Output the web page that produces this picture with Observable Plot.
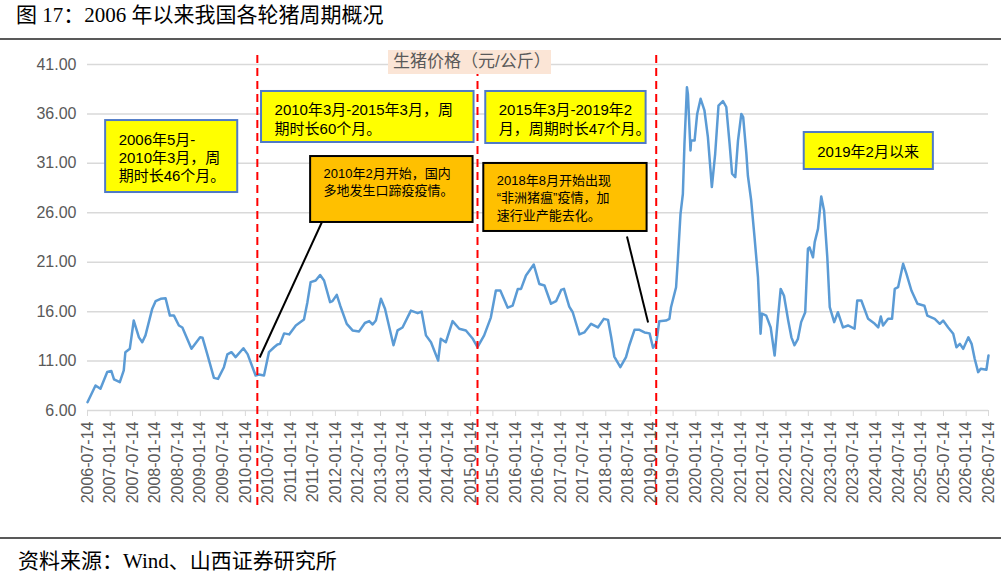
<!DOCTYPE html>
<html>
<head>
<meta charset="utf-8">
<script src="https://cdn.jsdelivr.net/npm/d3@7"></script>
<script src="https://cdn.jsdelivr.net/npm/@observablehq/plot@0.6"></script>
<style>
  body { margin: 0; background: #fff; width: 1007px; height: 578px; position: relative; overflow: hidden; }
  #title { position: absolute; left: 16px; top: 2px; font-size: 21px; line-height: 27px; font-family: "Liberation Serif", "Noto Sans CJK SC", serif; color: #000; white-space: nowrap; }
  .rule { position: absolute; left: 0; width: 1001px; height: 2px; background: #595959; }
  #chart { position: absolute; left: 0; top: 38px; }
  #legend { position: absolute; left: 388px; top: 50px; width: 163px; height: 24px; background: #fbe5d6; color: #595959; font-size: 17px; line-height: 24px; font-family: "Liberation Sans", "Noto Sans CJK SC", sans-serif; padding-left: 5px; box-sizing: border-box; white-space: nowrap; }
  #source { position: absolute; left: 18px; top: 548px; font-size: 21px; line-height: 27px; font-family: "Liberation Serif", "Noto Sans CJK SC", serif; color: #000; white-space: nowrap; }
</style>
</head>
<body>
<div id="title">图 17：2006 年以来我国各轮猪周期概况</div>
<div class="rule" style="top:38px"></div>
<div id="chart"></div>
<div id="legend">生猪价格（元/公斤）</div>
<div class="rule" style="top:537px"></div>
<div id="source">资料来源：Wind、山西证券研究所</div>
<script>
// ---- data ----
const priceDates = [
"2006-07-14","2006-09-17","2006-10-27","2006-12-21","2007-01-23","2007-02-14","2007-04-02","2007-05-04","2007-05-17","2007-06-22",
"2007-07-24","2007-09-04","2007-10-01","2007-10-27","2007-12-21","2008-01-17","2008-02-27","2008-04-07","2008-05-12","2008-06-14",
"2008-07-24","2008-08-21","2008-11-03","2009-01-12","2009-02-01","2009-03-11","2009-05-04","2009-06-06","2009-07-24","2009-08-21",
"2009-09-23","2009-10-27","2009-12-29","2010-02-01","2010-04-07","2010-05-04","2010-06-14","2010-07-24","2010-09-04","2010-10-01",
"2010-10-22","2010-11-24","2011-01-04","2011-02-27","2011-05-04","2011-06-01","2011-06-27","2011-08-07","2011-09-12","2011-10-14",
"2011-12-02","2011-12-21","2012-01-25","2012-02-22","2012-04-15","2012-06-01","2012-07-24","2012-09-09","2012-10-14","2012-11-11",
"2012-12-07","2013-01-17","2013-02-19","2013-04-29","2013-06-01","2013-07-11","2013-09-17","2013-11-11","2013-12-13","2014-01-17",
"2014-02-27","2014-04-26","2014-05-17","2014-06-27","2014-08-21","2014-10-14","2014-12-07","2015-02-01","2015-03-11","2015-05-04",
"2015-06-27","2015-08-07","2015-09-12","2015-11-11","2015-12-21","2016-02-01","2016-02-27","2016-04-07","2016-06-09","2016-07-24",
"2016-09-04","2016-10-27","2016-12-07","2017-01-17","2017-02-09","2017-03-24","2017-04-21","2017-06-14","2017-07-24","2017-09-17",
"2017-11-11","2017-12-29","2018-02-01","2018-02-27","2018-03-24","2018-05-12","2018-06-27","2018-07-24","2018-09-04","2018-10-14",
"2018-11-24","2019-01-04","2019-02-01","2019-02-27","2019-03-24","2019-05-17","2019-06-14","2019-06-27","2019-08-07","2019-08-21",
"2019-09-12","2019-10-01","2019-10-14","2019-11-03","2019-11-11","2019-12-02","2019-12-07","2020-01-04","2020-01-25","2020-02-22",
"2020-03-24","2020-04-21","2020-05-23","2020-06-19","2020-07-16","2020-08-21","2020-09-17","2020-10-14","2020-11-03","2020-11-29",
"2020-12-21","2021-01-17","2021-02-01","2021-02-27","2021-03-11","2021-04-07","2021-05-04","2021-06-01","2021-06-22","2021-07-03",
"2021-08-07","2021-09-12","2021-10-14","2021-11-11","2021-12-02","2021-12-29","2022-02-01","2022-02-27","2022-03-24","2022-04-21",
"2022-05-17","2022-06-19","2022-07-11","2022-07-24","2022-08-21","2022-09-04","2022-10-01","2022-10-27","2022-11-19","2022-12-15",
"2023-01-04","2023-02-09","2023-03-11","2023-04-21","2023-06-01","2023-07-24","2023-08-15","2023-09-17","2023-11-11","2024-01-04",
"2024-02-01","2024-02-22","2024-03-11","2024-04-21","2024-05-23","2024-06-14","2024-07-11","2024-08-21","2024-09-17","2024-10-27",
"2024-12-15","2025-02-09","2025-03-05","2025-05-04","2025-06-14","2025-07-11","2025-08-21","2025-10-01","2025-10-27","2025-11-24",
"2025-12-21","2026-02-01","2026-02-27","2026-03-24","2026-04-21","2026-05-12","2026-06-27","2026-07-08","2026-07-14"
];
const prices = [
6.84,8.53,8.2,9.9,10.0,9.14,8.86,10.05,11.9,12.24,
15.1,13.4,12.9,13.6,16.3,17.06,17.3,17.36,15.6,15.6,
14.6,14.4,12.24,13.4,13.35,11.7,9.3,9.2,10.38,11.67,
11.9,11.4,12.3,11.7,9.54,9.64,9.54,11.9,12.4,12.68,
12.74,13.8,13.7,14.6,15.2,16.96,18.98,19.15,19.7,19.15,
16.96,17.06,17.7,16.6,14.77,14.1,14.0,14.85,15.04,14.7,
15.1,17.3,16.3,12.6,14.1,14.4,16.1,15.85,16.0,13.6,
12.9,11.06,13.25,12.9,15.04,14.27,14.1,13.25,12.4,13.6,
15.4,18.14,18.14,16.4,16.6,18.3,18.3,19.66,20.77,18.8,
18.64,16.8,17.06,18.2,18.3,16.5,15.94,13.7,13.9,14.77,
14.4,15.27,15.17,13.4,11.46,10.38,11.4,12.6,14.16,14.16,
13.9,13.8,12.34,12.8,15.04,15.1,15.27,16.45,18.47,21.17,
25.9,27.9,32.98,38.7,38.0,32.3,33.3,33.3,36.0,37.53,
36.35,33.65,28.6,31.97,36.85,37.3,36.7,32.98,29.95,29.6,
33.3,36.0,35.67,31.97,29.77,27.24,23.53,19.5,13.76,15.8,
15.6,14.4,11.56,15.5,18.3,17.6,15.1,13.4,12.6,13.25,
14.94,15.94,22.36,22.5,21.5,23.03,24.4,27.65,26.2,21.5,
16.45,14.94,15.94,14.4,14.6,14.27,17.13,17.13,15.27,14.77,
14.4,15.5,14.6,15.27,15.27,18.3,18.47,20.84,19.83,18.14,
16.8,16.6,15.6,15.27,14.77,15.1,14.4,13.76,12.4,12.74,
12.24,13.4,12.74,11.23,9.88,10.22,10.12,11.06,11.56
];
const xTickLabels = [
"2006-07-14","2007-01-14","2007-07-14","2008-01-14","2008-07-14","2009-01-14","2009-07-14","2010-01-14","2010-07-14","2011-01-14",
"2011-07-14","2012-01-14","2012-07-14","2013-01-14","2013-07-14","2014-01-14","2014-07-14","2015-01-14","2015-07-14","2016-01-14",
"2016-07-14","2017-01-14","2017-07-14","2018-01-14","2018-07-14","2019-01-14","2019-07-14","2020-01-14","2020-07-14","2021-01-14",
"2021-07-14","2022-01-14","2022-07-14","2023-01-14","2023-07-14","2024-01-14","2024-07-14","2025-01-14","2025-07-14","2026-01-14",
"2026-07-14"
];
const yTicks = [6, 11, 16, 21, 26, 31, 36, 41];
// cycle boundaries (red dashed lines)
const cycleDates = ["2010-04-21", "2015-03-11", "2019-02-27"];
// annotation boxes
const noteText = [
  "2006年5月-\n2010年3月，周\n期时长46个月。",
  "2010年3月-2015年3月，周\n期时长60个月。",
  "2015年3月-2019年2\n月，周期时长47个月。",
  "2010年2月开始，国内\n多地发生口蹄疫疫情。",
  "2018年8月开始出现\n“非洲猪瘟”疫情，加\n速行业产能去化。",
  "2019年2月以来"
];
const noteKind = ["cycle", "cycle", "cycle", "event", "event", "cycle"];
const noteX1 = ["2006-12-08", "2010-05-25", "2015-05-17", "2011-06-27", "2015-05-01", "2022-06-11"];
const noteX2 = ["2009-11-13", "2015-02-11", "2018-12-07", "2015-02-03", "2018-12-15", "2025-04-23"];
const noteYTop = [35.33, 38.27, 38.27, 31.69, 30.99, 34.12];
const noteYBottom = [28.05, 33.11, 33.01, 25.02, 24.11, 30.38];
// pointer lines from event boxes to the price line
const pointerFromDate = ["2011-09-25", "2018-07-05"];
const pointerFromPrice = [25.02, 23.6];
const pointerToDate = ["2010-05-10", "2018-12-23"];
const pointerToPrice = [11.36, 14.9];

// ---- chart ----
const parse = d3.utcParse("%Y-%m-%d");
const data = priceDates.map((d, i) => ({date: parse(d), price: prices[i]}));
const notes = noteText.map((t, i) => ({
  x1: parse(noteX1[i]), x2: parse(noteX2[i]), y1: noteYTop[i], y2: noteYBottom[i], text: t, kind: noteKind[i]
}));
const pointers = pointerFromDate.map((d, i) => ({
  x1: parse(d), y1: pointerFromPrice[i], x2: parse(pointerToDate[i]), y2: pointerToPrice[i]
}));
const cycleNotes = notes.filter(d => d.kind === "cycle");
const eventNotes = notes.filter(d => d.kind === "event");
const fontStack = "'Liberation Sans', Arial, 'Noto Sans CJK SC', sans-serif";

const chart = Plot.plot({
  width: 1007,
  height: 500,
  marginLeft: 87,
  marginRight: 19,
  marginTop: 26,
  marginBottom: 128,
  style: {fontFamily: fontStack, fontSize: "16px", color: "#595959", background: "transparent", overflow: "visible"},
  x: {type: "utc", domain: [parse(xTickLabels[0]), parse(xTickLabels[xTickLabels.length - 1])]},
  y: {domain: [6, 41]},
  marks: [
    Plot.gridY(yTicks, {stroke: "#d9d9d9", strokeOpacity: 1, strokeWidth: 1.5}),
    Plot.line(data, {x: "date", y: "price", stroke: "#5b9bd5", strokeWidth: 2.5}),
    Plot.ruleX(cycleDates.map(parse), {y1: 41.9, y2: -3.8, stroke: "#ff0000", strokeWidth: 2, strokeDasharray: "8,5"}),
    Plot.link(pointers, {x1: "x1", y1: "y1", x2: "x2", y2: "y2", stroke: "#000", strokeWidth: 2}),
    Plot.rect(cycleNotes, {x1: "x1", x2: "x2", y1: "y1", y2: "y2", fill: "#ffff00", stroke: "#4f7ac7", strokeWidth: 2}),
    Plot.rect(eventNotes, {x1: "x1", x2: "x2", y1: "y1", y2: "y2", fill: "#ffc000", stroke: "#000", strokeWidth: 2}),
    Plot.text(cycleNotes, {x: "x1", y: "y1", text: "text", textAnchor: "start", lineAnchor: "top", dx: 13, dy: 11, fontSize: 15, lineHeight: 1.22, fill: "#000", fontFamily: fontStack}),
    Plot.text(eventNotes, {x: "x1", y: "y1", text: "text", textAnchor: "start", lineAnchor: "top", dx: 13, dy: 9, fontSize: 13, lineHeight: 1.34, fill: "#000", fontFamily: fontStack}),
    Plot.axisY(yTicks, {tickFormat: d => d.toFixed(2), tickSize: 0, tickPadding: 11, fontSize: 16, fill: "#595959", label: null}),
    Plot.axisX(xTickLabels.map(parse), {tickFormat: d3.utcFormat("%Y-%m-%d"), tickRotate: -90, tickSize: 6, tickPadding: 5, stroke: "#d9d9d9", fill: "#595959", fontSize: 16, label: null})
  ]
});
document.getElementById("chart").appendChild(chart);
</script>
</body>
</html>
